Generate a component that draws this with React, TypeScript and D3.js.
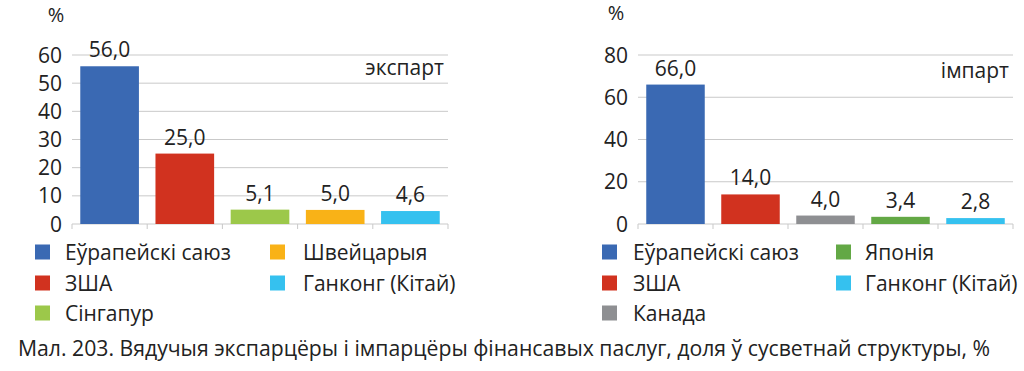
import React from 'react';
import * as d3 from 'd3';

const exportCategories = ['Еўрапейскі саюз', 'ЗША', 'Сінгапур', 'Швейцарыя', 'Ганконг (Кітай)'];
const exportValues = [56.0, 25.0, 5.1, 5.0, 4.6];
const exportColors = ['#3a69b3', '#d1321f', '#9cc84a', '#f9b217', '#35c1ef'];
const exportTicks = [0, 10, 20, 30, 40, 50, 60];

const importCategories = ['Еўрапейскі саюз', 'ЗША', 'Канада', 'Японія', 'Ганконг (Кітай)'];
const importValues = [66.0, 14.0, 4.0, 3.4, 2.8];
const importColors = ['#3a69b3', '#d1321f', '#8e8f92', '#63a845', '#35c1ef'];
const importTicks = [0, 20, 40, 60, 80];

const caption = 'Мал. 203. Вядучыя экспарцёры і імпарцёры фінансавых паслуг, доля ў сусветнай структуры, %';

const FONT = '"Open Sans", "Noto Sans", sans-serif';
const fmt = (v: number) => v.toFixed(1).replace('.', ',');

type PanelProps = {
  x0: number;
  x1: number;
  categories: string[];
  values: number[];
  colors: string[];
  ticks: number[];
  title: string;
  titleY: number;
  pctX: number;
  pctY: number;
  legend: { sq1: number; tx1: number; sq2: number; tx2: number };
};

const Panel = ({ x0, x1, categories, values, colors, ticks, title, titleY, pctX, pctY, legend }: PanelProps) => {
  const top = 55;
  const bottom = 224;
  const x = d3.scaleBand<number>().domain(d3.range(values.length)).range([x0, x1]).paddingInner(0.22).paddingOuter(0.11);
  const y = d3.scaleLinear().domain([0, d3.max(ticks) as number]).range([bottom, top]);
  const step = (x1 - x0) / values.length;
  const rowY = [252, 283, 313];

  return (
    <g fontFamily={FONT}>
      <text x={pctX} y={pctY} fontSize={20} textAnchor="middle" fill="#222">%</text>
      {ticks.map(t => (
        <g key={t}>
          <line x1={x0} x2={x1} y1={y(t)} y2={y(t)} stroke="#c9c9c9" strokeWidth={1} />
          <text x={x0 - 10} y={y(t) + 7.5} fontSize={21} textAnchor="end" fill="#222">{t}</text>
        </g>
      ))}
      {d3.range(values.length + 1).map(i => (
        <line key={i} x1={x0 + i * step} x2={x0 + i * step} y1={bottom} y2={bottom + 5} stroke="#c9c9c9" />
      ))}
      {values.map((v, i) => (
        <g key={i}>
          <rect x={x(i)} y={y(v)} width={x.bandwidth()} height={bottom - y(v)} fill={colors[i]} />
          <text x={(x(i) as number) + x.bandwidth() / 2} y={y(v) - 9} fontSize={21} textAnchor="middle" fill="#222">{fmt(v)}</text>
        </g>
      ))}
      <text x={x1 - 4} y={titleY} fontSize={21} textAnchor="end" fill="#222">{title}</text>
      {categories.map((c, i) => {
        const col = i < 3 ? 0 : 1;
        const row = i < 3 ? i : i - 3;
        const sq = col === 0 ? legend.sq1 : legend.sq2;
        const tx = col === 0 ? legend.tx1 : legend.tx2;
        return (
          <g key={c}>
            <rect x={sq} y={rowY[row] - 7.5} width={15} height={15} fill={colors[i]} />
            <text x={tx} y={rowY[row] + 7.5} fontSize={21} fill="#222">{c}</text>
          </g>
        );
      })}
    </g>
  );
};

export default function App() {
  return (
    <svg width={1024} height={371} style={{ position: 'absolute', left: 0, top: 0, background: '#fff' }}>
      <rect width={1024} height={371} fill="#fff" />
      <Panel x0={72} x1={448} categories={exportCategories} values={exportValues} colors={exportColors}
        ticks={exportTicks} title="экспарт" titleY={75} pctX={56} pctY={22}
        legend={{ sq1: 35, tx1: 65, sq2: 270, tx2: 303 }} />
      <Panel x0={638} x1={1013} categories={importCategories} values={importValues} colors={importColors}
        ticks={importTicks} title="імпарт" titleY={78} pctX={616} pctY={20}
        legend={{ sq1: 602, tx1: 633, sq2: 836, tx2: 865 }} />
      <text x={18} y={356} fontSize={21} fontFamily={FONT} fill="#222" textLength={972} lengthAdjust="spacingAndGlyphs">{caption}</text>
    </svg>
  );
}
